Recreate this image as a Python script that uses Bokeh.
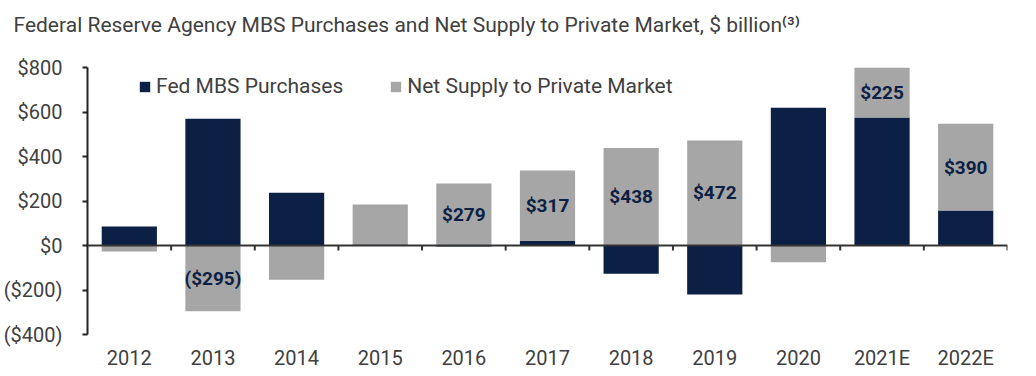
from bokeh.plotting import figure
from bokeh.models import ColumnDataSource, FixedTicker, Legend, LegendItem, Span, Range1d, Title
from bokeh.embed import file_html
from bokeh.resources import INLINE
from bokeh.core.properties import value

title_text = "Federal Reserve Agency MBS Purchases and Net Supply to Private Market, $ billion\u207d\u00b3\u207e"
categories = ["2012", "2013", "2014", "2015", "2016", "2017", "2018", "2019", "2020", "2021E", "2022E"]
fed_purchases = [85, 570, 237, 4, -5, 20, -127, -220, 619, 575, 157]
net_supply = [-27, -295, -154, 180, 279, 317, 438, 472, -75, 225, 390]
net_labels = ["", "($295)", "", "", "$279", "$317", "$438", "$472", "", "$225", "$390"]
y_ticks = [-400, -200, 0, 200, 400, 600, 800]
y_tick_labels = ["($400)", "($200)", "$0", "$200", "$400", "$600", "$800"]

NAVY = "#0c1f44"
GREY = "#a6a6a6"
TEXT = "#404040"
FONT = "Roboto"

n = len(categories)
xs = list(range(n))
# stacking: positives stack on positives, negatives on negatives
fed_bottom, fed_top, net_bottom, net_top, label_y = [], [], [], [], []
for f, s in zip(fed_purchases, net_supply):
    fed_bottom.append(0)
    fed_top.append(f)
    base = f if (f > 0 and s > 0) or (f < 0 and s < 0) else 0
    net_bottom.append(base)
    net_top.append(base + s)
    label_y.append(base + s / 2)

src = ColumnDataSource(dict(x=xs, fb=fed_bottom, ft=fed_top, nb=net_bottom, nt=net_top,
                            ly=label_y, lab=net_labels))

p = figure(width=1036, height=376, output_backend="svg", toolbar_location=None,
           x_range=Range1d(-0.5, n - 0.5), y_range=Range1d(-400, 800),
           min_border_left=86, min_border_right=29, min_border_top=67, min_border_bottom=42,
           title=title_text)
p.outline_line_color = None
p.grid.grid_line_color = None
p.background_fill_color = "white"
p.border_fill_color = "white"

p.title.text_font = FONT
p.title.text_font_size = "21px"
p.title.text_font_style = "normal"
p.title.text_color = TEXT
p.title.offset = -74
p.title.standoff = 0

# invisible spacer between the title and the plot frame
p.add_layout(Title(text=" ", text_font_size="10px", standoff=18), "above")

r_fed = p.vbar(x="x", bottom="fb", top="ft", width=0.66, source=src, fill_color=NAVY, line_color=None)
r_net = p.vbar(x="x", bottom="nb", top="nt", width=0.66, source=src, fill_color=GREY, line_color=None)

p.text(x="x", y="ly", text="lab", source=src, text_align="center", text_baseline="middle",
       text_font=value(FONT), text_font_size="19px", text_font_style="bold", text_color=NAVY)

# zero axis line with tick marks between categories
p.add_layout(Span(location=0, dimension="width", line_color="#333333", line_width=2))
bounds = [i + 0.5 for i in range(n)]
p.segment(x0=bounds, x1=bounds, y0=[0] * n, y1=[-22] * n, line_color="#333333", line_width=2)

# y axis
yax = p.yaxis[0]
yax.ticker = FixedTicker(ticks=y_ticks)
yax.major_label_overrides = {t: l for t, l in zip(y_ticks, y_tick_labels)}
yax.axis_line_color = "#222222"
yax.axis_line_width = 2
yax.major_tick_line_color = "#222222"
yax.major_tick_line_width = 2
yax.major_tick_out = 5
yax.major_tick_in = 0
yax.minor_tick_line_color = None
yax.major_label_text_font = FONT
yax.major_label_text_font_size = "20px"
yax.major_label_text_color = TEXT
yax.major_label_standoff = 20

# x axis (labels only)
xax = p.xaxis[0]
xax.ticker = FixedTicker(ticks=xs)
xax.major_label_overrides = {i: c for i, c in enumerate(categories)}
xax.axis_line_color = None
xax.major_tick_line_color = None
xax.minor_tick_line_color = None
xax.major_label_text_font = FONT
xax.major_label_text_font_size = "20px"
xax.major_label_text_color = TEXT
xax.major_label_standoff = 5

legend = Legend(items=[LegendItem(label="Fed MBS Purchases", renderers=[r_fed]),
                       LegendItem(label="Net Supply to Private Market", renderers=[r_net])],
                orientation="horizontal", location=(51, 236))
legend.padding = 0
legend.margin = 0
legend.spacing = 46
legend.glyph_width = 13
legend.glyph_height = 13
legend.label_standoff = 5
legend.label_text_font = FONT
legend.label_text_font_size = "21px"
legend.label_text_color = TEXT
legend.border_line_color = None
legend.background_fill_alpha = 0
p.add_layout(legend)

open("out.html", "w").write(file_html(p, INLINE))
